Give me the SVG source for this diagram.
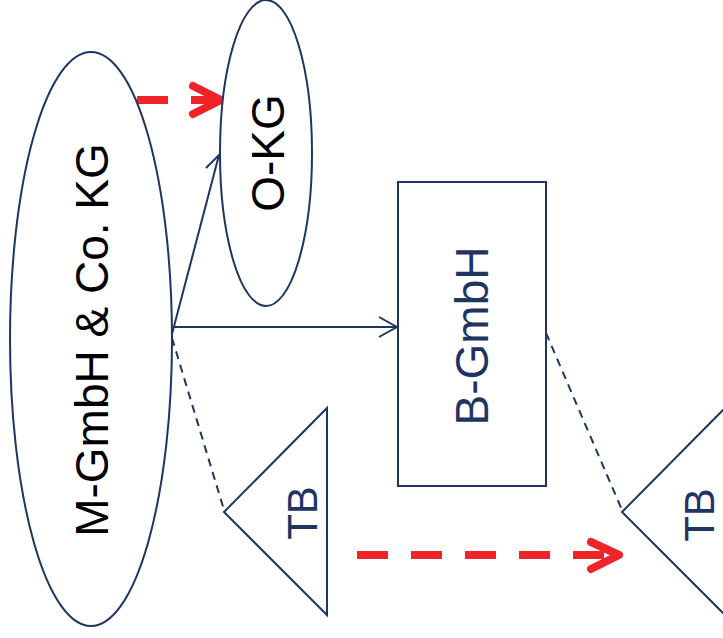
<svg xmlns="http://www.w3.org/2000/svg" width="723" height="638" viewBox="0 0 723 638">
  <style>
    .shape { fill: #ffffff; stroke: #1F3561; stroke-width: 2; }
    .lbl { font-family: "Liberation Sans", Arial, sans-serif; font-size: 46px; text-anchor: middle; }
    .dark { fill: #000000; }
    .navy { fill: #1F3561; }
    .link { fill: none; stroke: #1F3561; stroke-width: 2; }
    .dash { stroke-dasharray: 8 6; }
    .red { fill: none; stroke: #EE2428; stroke-width: 8; }
    .redhead { fill: none; stroke: #EE2428; stroke-width: 8; stroke-linecap: round; stroke-linejoin: round; }
  </style>
  <rect width="723" height="638" fill="#ffffff"/>

  <g id="connectors">
    <!-- solid arrows from the KG -->
    <line class="link" x1="174" y1="327" x2="397" y2="327"/>
    <polyline class="link" points="379,317 397,327 379,337"/>
    <line class="link" x1="172" y1="334" x2="219" y2="155"/>
    <polyline class="link" points="206,168 219,155 225,172"/>
    <!-- dashed links to the TB triangles -->
    <line class="link dash" x1="172" y1="338" x2="224" y2="510"/>
    <line class="link dash" x1="546" y1="333" x2="622" y2="510"/>
    <!-- red dashed arrows -->
    <line class="red" x1="137" y1="100" x2="218" y2="100" stroke-dasharray="31 23"/>
    <polyline class="redhead" points="193,86 221,100 193,114"/>
    <line class="red" x1="357" y1="555" x2="616" y2="555" stroke-dasharray="31 23"/>
    <polyline class="redhead" points="591,542 619,555 591,569"/>
  </g>

  <g id="m-gmbh-co-kg">
    <ellipse class="shape" cx="91" cy="339" rx="81" ry="287"/>
    <text class="lbl dark" transform="translate(108,340) rotate(-90)">M-GmbH &amp; Co. KG</text>
  </g>

  <g id="o-kg">
    <ellipse class="shape" cx="266" cy="153" rx="46" ry="153"/>
    <text class="lbl dark" transform="translate(284,153) rotate(-90)">O-KG</text>
  </g>

  <g id="b-gmbh">
    <rect class="shape" x="398" y="182" width="148" height="304"/>
    <text class="lbl navy" transform="translate(488,336) rotate(-90)">B-GmbH</text>
  </g>

  <g id="tb-1">
    <polygon class="shape" points="224,512 327,408 327,615"/>
    <text class="lbl navy" style="font-size:42px" transform="translate(317,513) rotate(-90)">TB</text>
  </g>

  <g id="tb-2">
    <polygon class="shape" points="622,512 725,408 725,615"/>
    <text class="lbl navy" style="font-size:42px" transform="translate(714,515) rotate(-90)">TB</text>
  </g>
</svg>
